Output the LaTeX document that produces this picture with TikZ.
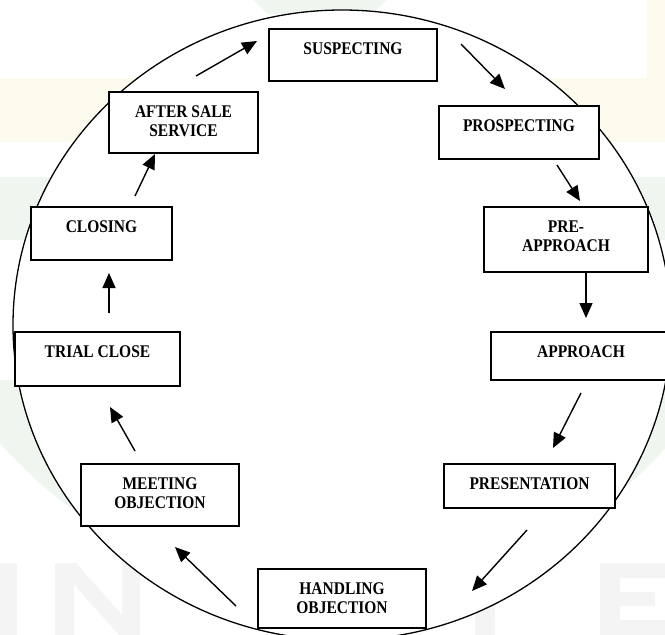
\documentclass[tikz,border=0pt]{standalone}
\usepackage{fontspec}
\setmainfont{Liberation Serif}
\usepackage{graphicx}
\usetikzlibrary{arrows.meta,calc}

\definecolor{wmyellow}{HTML}{FDFBEE}
\definecolor{wmgreen}{HTML}{EFF6EF}
\definecolor{wmgray}{HTML}{F4F4F4}

% step label: centred lines, slightly tall letters, baseline on the first line
\newcommand\steptext[1]{\scalebox{1}[1.15]{\begin{tabular}[t]{@{}c@{}}#1\end{tabular}}}

\tikzset{
  stbox/.style={draw, fill=white, line width=1.7pt, rectangle, inner sep=0pt},
  lbl/.style={anchor=base, inner sep=0pt, font=\bfseries\fontsize{15.5}{16.7}\selectfont},
  flow/.style={-{Triangle[length=15pt,width=13pt]}, line width=1.4pt},
  cycleline/.style={draw, fill=white, line width=1.3pt}
}

\begin{document}
\begin{tikzpicture}[x=1pt,y=-1pt]
\useasboundingbox (0,0) rectangle (665,635);
\fill[white] (0,0) rectangle (665,635);

% faint backdrop pattern
\fill[wmyellow] (0,78) rectangle (665,142);
\fill[wmyellow] (647,0) rectangle (665,78);
\fill[wmgreen] (0,177) rectangle (665,240);
\fill[wmgreen] (254,0) -- (386,0) -- (372,14) -- (268,14) -- cycle;
\begin{scope}
  \clip (0,380) rectangle (665,635);
  \fill[wmgreen] (335,150) circle (445pt);
\end{scope}
\fill[wmgray] (0,563) rectangle (17,635);
\fill[wmgray] (55,563) rectangle (74,635);
\fill[wmgray] (122,563) rectangle (140,635);
\fill[wmgray] (55,563) -- (76,563) -- (140,635) -- (119,635) -- cycle;
\fill[wmgray] (475,563) rectangle (495,635);
\fill[wmgray] (600,563) rectangle (620,635);
\fill[wmgray] (600,563) rectangle (665,578);
\fill[wmgray] (600,592) rectangle (655,606);
\fill[wmgray] (600,620) rectangle (665,635);

% the selling cycle
\path[cycleline] (342,325) ellipse [x radius=329pt, y radius=315pt];

% step boxes
\node[stbox, minimum width=168pt, minimum height=52pt] (susp)  at (353,55)    {};
\node[stbox, minimum width=160pt, minimum height=53pt] (prosp) at (519,132.5) {};
\node[stbox, minimum width=164pt, minimum height=65pt] (pre)   at (566,239.5) {};
\node[stbox, minimum width=180pt, minimum height=48pt] (appr)  at (581,356)   {};
\node[stbox, minimum width=171pt, minimum height=44pt] (pres)  at (529.5,486) {};
\node[stbox, minimum width=168pt, minimum height=59pt] (hand)  at (342,598.5) {};
\node[stbox, minimum width=158pt, minimum height=62pt] (meet)  at (160,495)   {};
\node[stbox, minimum width=165pt, minimum height=54pt] (trial) at (97.5,359)  {};
\node[stbox, minimum width=141pt, minimum height=53pt] (clos)  at (101.5,233.5) {};
\node[stbox, minimum width=149pt, minimum height=61pt] (after) at (183.5,122.5) {};

% step labels
\node[lbl] (tsusp)  at ($(susp.north)+(0,26.4)$)  {\steptext{SUSPECTING}};
\node[lbl] (tprosp) at ($(prosp.north)+(0,26.4)$) {\steptext{PROSPECTING}};
\node[lbl] (tpre)   at ($(pre.north)+(0,26.4)$)   {\steptext{PRE-\\APPROACH}};
\node[lbl] (tappr)  at ($(appr.north)+(0,26.4)$)  {\steptext{APPROACH}};
\node[lbl] (tpres)  at ($(pres.north)+(0,26.4)$)  {\steptext{PRESENTATION}};
\node[lbl] (thand)  at ($(hand.north)+(0,26.4)$)  {\steptext{HANDLING\\OBJECTION}};
\node[lbl] (tmeet)  at ($(meet.north)+(0,26.4)$)  {\steptext{MEETING\\OBJECTION}};
\node[lbl] (ttrial) at ($(trial.north)+(0,26.4)$) {\steptext{TRIAL CLOSE}};
\node[lbl] (tclos)  at ($(clos.north)+(0,26.4)$)  {\steptext{CLOSING}};
\node[lbl] (tafter) at ($(after.north)+(0,26.4)$) {\steptext{AFTER SALE\\SERVICE}};

% arrow ends
\coordinate (a1) at (196,76);  \coordinate (b1) at (257,41);
\coordinate (a2) at (461,44);  \coordinate (b2) at (505,89);
\coordinate (a3) at (557,165); \coordinate (b3) at (580,201);
\coordinate (a4) at (586,272); \coordinate (b4) at (586,318);
\coordinate (a5) at (581,393); \coordinate (b5) at (553,448);
\coordinate (a6) at (527,530); \coordinate (b6) at (472,591);
\coordinate (a7) at (236,606); \coordinate (b7) at (175,547);
\coordinate (a8) at (135,451); \coordinate (b8) at (110,407);
\coordinate (a9) at (109,313); \coordinate (b9) at (109,273);
\coordinate (a10) at (135,196); \coordinate (b10) at (155,154);

% arrows round the cycle
\draw[flow] (a1) -- (b1);
\draw[flow] (a2) -- (b2);
\draw[flow] (a3) -- (b3);
\draw[flow] (a4) -- (b4);
\draw[flow] (a5) -- (b5);
\draw[flow] (a6) -- (b6);
\draw[flow] (a7) -- (b7);
\draw[flow] (a8) -- (b8);
\draw[flow] (a9) -- (b9);
\draw[flow] (a10) -- (b10);
\end{tikzpicture}
\end{document}
